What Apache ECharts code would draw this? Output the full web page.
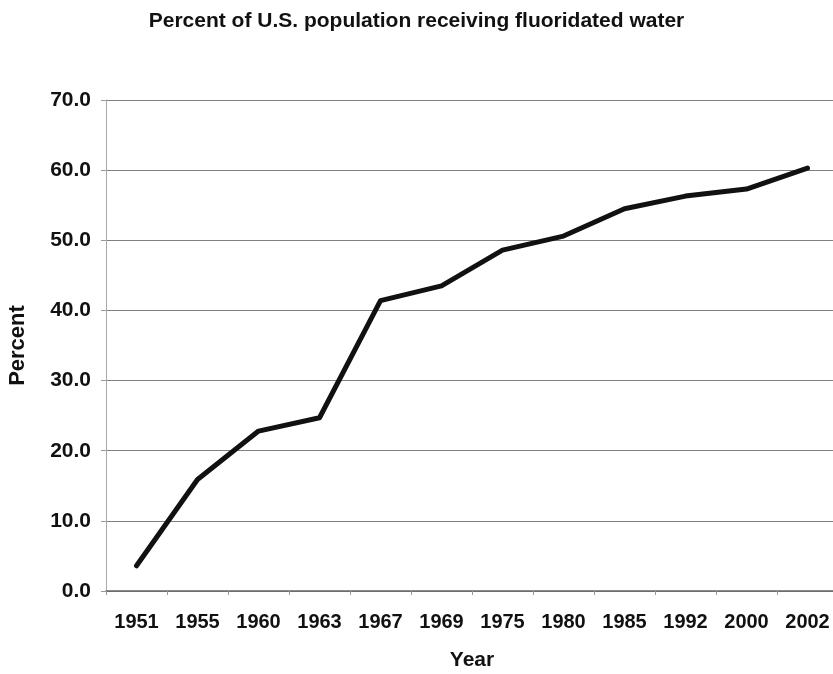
<!DOCTYPE html>
<html>
<head>
<meta charset="utf-8">
<style>
  html, body { margin: 0; padding: 0; background: #fff; }
  #chart { width: 833px; height: 674px; }
</style>
<script src="https://cdn.jsdelivr.net/npm/echarts@6/dist/echarts.min.js"></script>
</head>
<body>
<div id="chart"></div>
<script>
// Survey years and share of the population served by fluoridated water
const years = ['1951', '1955', '1960', '1963', '1967', '1969', '1975', '1980', '1985', '1992', '2000', '2002'];
const percent = [3.6, 15.9, 22.8, 24.7, 41.4, 43.5, 48.6, 50.6, 54.5, 56.3, 57.3, 60.3];
const yTicks = [0, 10, 20, 30, 40, 50, 60, 70];

const font = '"Liberation Sans", Arial, sans-serif';
const chart = echarts.init(document.getElementById('chart'), null, { renderer: 'canvas' });

chart.setOption({
  backgroundColor: '#ffffff',
  animation: false,
  title: {
    text: 'Percent of U.S. population receiving fluoridated water',
    left: 'center',
    top: 6,
    textStyle: { fontFamily: font, fontSize: 21, fontWeight: 'bold', color: '#111' }
  },
  grid: { left: 106, right: -5, top: 100, bottom: 83, containLabel: false, outerBoundsMode: 'none' },
  xAxis: {
    type: 'category',
    data: years,
    boundaryGap: true,
    name: 'Year',
    nameLocation: 'middle',
    nameGap: 59,
    nameTextStyle: { fontFamily: font, fontSize: 21, fontWeight: 'bold', color: '#111' },
    axisLine: { lineStyle: { color: '#666', width: 1.5 } },
    axisTick: { show: true, length: 4, lineStyle: { color: '#999' } },
    axisLabel: { fontFamily: font, fontSize: 20, fontWeight: 'bold', color: '#111', margin: 21 }
  },
  yAxis: {
    type: 'value',
    min: yTicks[0],
    max: yTicks[yTicks.length - 1],
    interval: 10,
    name: 'Percent',
    nameLocation: 'middle',
    nameGap: 77,
    nameRotate: 90,
    nameTextStyle: { fontFamily: font, fontSize: 22, fontWeight: 'bold', color: '#111' },
    axisLine: { show: true, lineStyle: { color: '#aaa', width: 1 } },
    axisTick: { show: true, length: 5, lineStyle: { color: '#999' } },
    axisLabel: {
      fontFamily: font, fontSize: 21, fontWeight: 'bold', color: '#111', margin: 15,
      formatter: v => v.toFixed(1)
    },
    splitLine: { show: true, lineStyle: { color: '#808080', width: 1.2 } }
  },
  series: [{
    type: 'line',
    data: percent,
    symbol: 'none',
    lineStyle: { color: '#111', width: 5, cap: 'round', join: 'round' }
  }]
});
</script>
</body>
</html>
